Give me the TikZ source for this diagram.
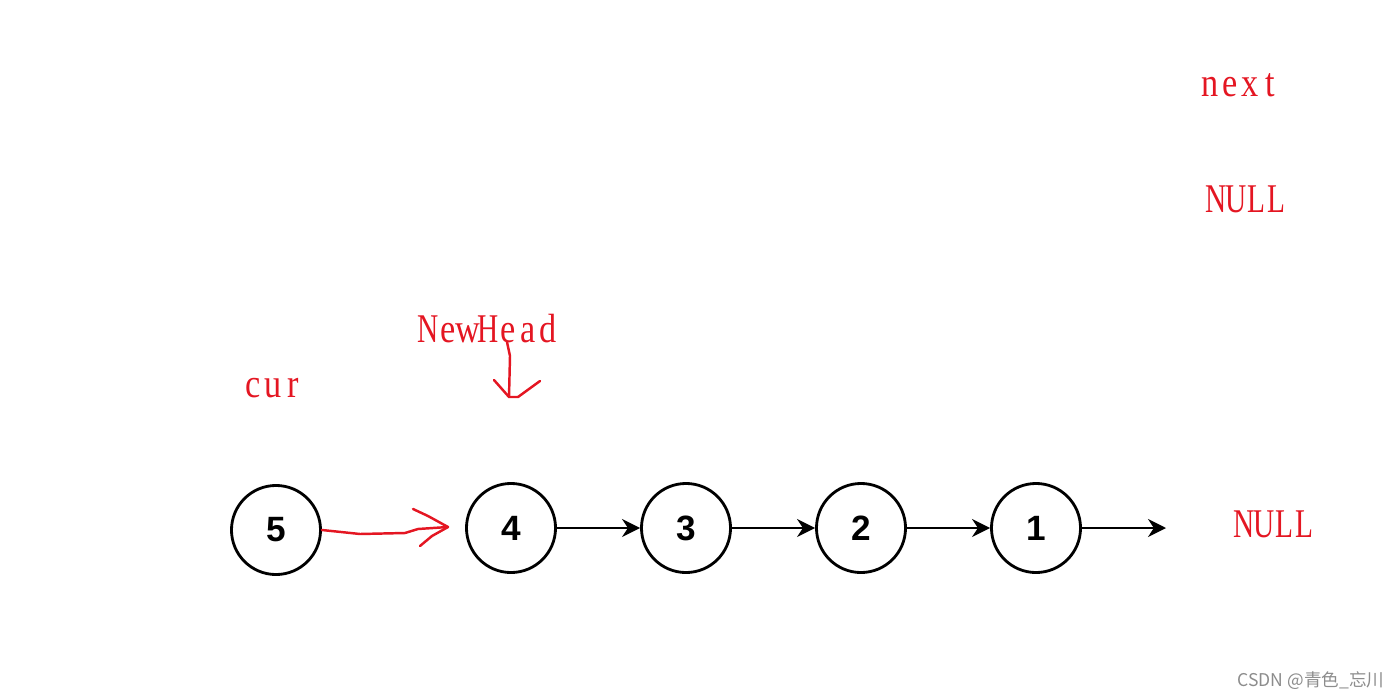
\documentclass[tikz,border=0pt]{standalone}
\usepackage{fontspec}
\setsansfont{Liberation Sans}
\newfontfamily\handupper[FakeStretch=0.72]{Liberation Serif}
\newfontfamily\handlower[FakeStretch=0.84]{Liberation Serif}
\newfontfamily\cjkfont{Noto Sans CJK SC}
\usetikzlibrary{arrows.meta}
\definecolor{penred}{RGB}{228,22,34}
% each letter in a cell of the same width
\def\cells#1{\cellsi#1\relax}
\def\cellsi#1{\ifx#1\relax\else
  \makebox[5.69pt]{\ifnum\lccode`#1=`#1\handlower\else\handupper\fi#1}%
  \expandafter\cellsi\fi}

\begin{document}
\begin{tikzpicture}[x=0.01cm,y=-0.01cm,
  item/.style={draw=black,line width=0.8pt,circle,minimum size=0.89cm,inner sep=0pt,font=\sffamily\bfseries\fontsize{10}{12}\selectfont},
  link/.style={-{Stealth[length=1.8mm,width=1.8mm]},draw=black,line width=0.6pt},
  pen/.style={draw=penred,line width=0.7pt,line cap=round,line join=round},
  note/.style={text=penred,anchor=base,inner sep=0pt,font=\fontsize{11.6}{14}\selectfont},
  wmark/.style={text=black!45,anchor=base,inner sep=0pt,font=\cjkfont\fontsize{5}{6}\selectfont},
]
\useasboundingbox (0,0) rectangle (1400,697);
\node[item] (n5) at (276,530) {5};
\node[item] (n4) at (511,528) {4};
\node[item] (n3) at (686,528) {3};
\node[item] (n2) at (861,528) {2};
\node[item] (n1) at (1036,528) {1};
\coordinate (end) at (1166,528);
\draw[link] (n4) -- (n3);
\draw[link] (n3) -- (n2);
\draw[link] (n2) -- (n1);
\draw[link] (n1) -- (end);
\node[note] (next) at (1240,96) {\cells{next}};
\node[note] (null1) at (1246,212) {\cells{NULL}};
\node[note] (null2) at (1274,537) {\cells{NULL}};
\node[note] (newhead) at (488,342) {\cells{NewHead}};
\node[note] (cur) at (273,397) {\cells{cur}};
% hand drawn arrows
\coordinate (tip4) at (448,527);
\draw[pen] (n5.east) -- (360,534) -- (405,533) -- (418,529) -- (tip4);
\draw[pen] (413,509) -- (428,516) -- (tip4) -- (432,536) -- (420,546);
\coordinate (tipnh) at (509,397);
\draw[pen] (507,342) -- (510,356) -- (tipnh);
\draw[pen] (494,380) -- (tipnh) -- (518,397) -- (540,381);
\node[wmark] (wm) at (1311,686) {CSDN @青色\_忘川};
\end{tikzpicture}
\end{document}
